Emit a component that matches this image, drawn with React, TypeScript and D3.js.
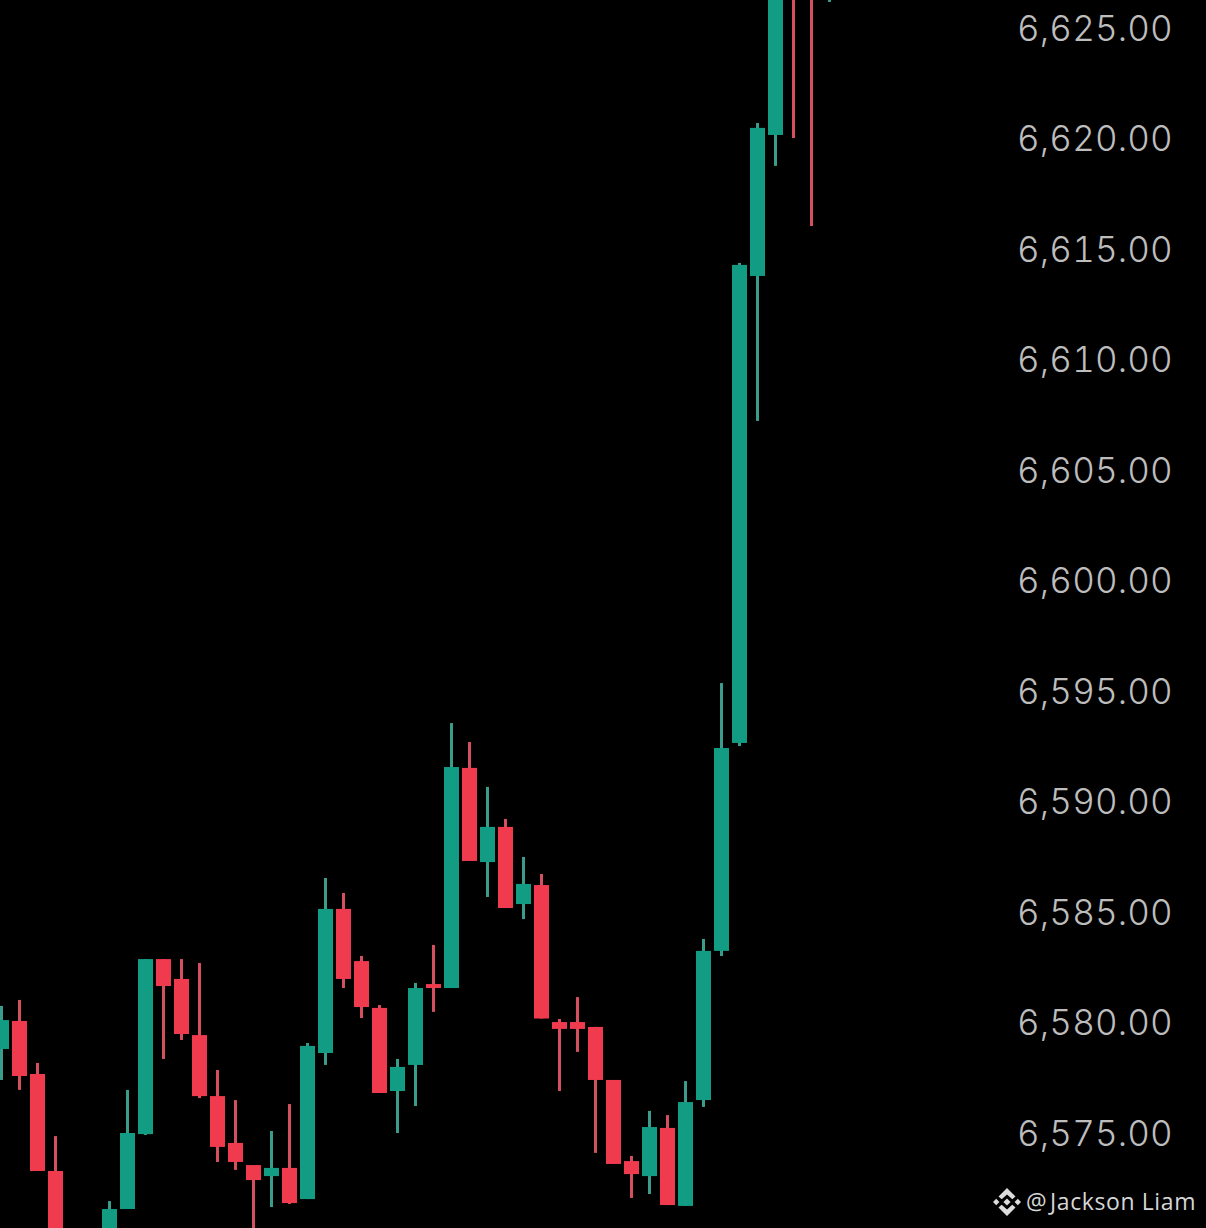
import React, { useEffect, useRef } from "react";
import * as d3 from "d3";

// candle slots, 4 and 5 sit below the visible part of the chart
const slots = [0, 1, 2, 3, 6, 7, 8, 9, 10, 11, 12, 13, 14, 15, 16, 17, 18, 19, 20, 21, 22, 23, 24, 25, 26, 27, 28, 29, 30, 31, 32, 33, 34, 35, 36, 37, 38, 39, 40, 41, 42, 43, 44, 45, 46];
const opens = [6578.8, 6580.07, 6577.67, 6573.28, 6570.16, 6571.56, 6574.95, 6582.87, 6581.97, 6579.43, 6576.67, 6574.55, 6573.55, 6573.05, 6573.42, 6572.01, 6578.62, 6585.14, 6582.78, 6580.66, 6576.9, 6578.08, 6581.74, 6581.56, 6591.52, 6587.26, 6588.85, 6585.36, 6586.22, 6580.02, 6580.02, 6579.8, 6577.4, 6573.73, 6573.05, 6575.23, 6571.7, 6576.49, 6583.24, 6592.65, 6613.78, 6620.16, 6630.5, 6631, 6627.5];
const highs = [6580.75, 6581.02, 6578.17, 6574.86, 6571.92, 6576.95, 6582.87, 6582.87, 6582.87, 6582.69, 6577.85, 6576.49, 6573.55, 6575.09, 6576.31, 6579.07, 6586.54, 6585.86, 6583.01, 6580.79, 6578.35, 6581.79, 6583.51, 6593.55, 6592.69, 6590.66, 6589.21, 6587.49, 6586.72, 6580.16, 6581.15, 6579.8, 6577.4, 6573.96, 6576, 6575.81, 6577.35, 6583.78, 6595.36, 6614.37, 6620.7, 6628.08, 6631, 6632, 6634];
const lows = [6577.4, 6576.95, 6573.28, 6569.71, 6570.16, 6571.56, 6574.91, 6578.35, 6579.21, 6576.58, 6573.69, 6573.33, 6570.16, 6571.65, 6571.79, 6572.01, 6578.08, 6581.56, 6580.2, 6576.81, 6575, 6576.22, 6580.48, 6581.56, 6587.31, 6585.68, 6585.18, 6584.68, 6580.18, 6576.9, 6578.67, 6574.1, 6573.6, 6572.06, 6572.24, 6571.74, 6571.7, 6576.18, 6583.01, 6592.51, 6607.22, 6618.76, 6620.02, 6616.04, 6626.18];
const closes = [6580.11, 6577.58, 6573.28, 6570.16, 6571.56, 6575, 6582.87, 6581.65, 6579.48, 6576.67, 6574.37, 6573.69, 6572.87, 6573.42, 6571.83, 6578.94, 6585.14, 6581.97, 6580.7, 6576.81, 6577.99, 6581.56, 6581.56, 6591.56, 6587.31, 6588.85, 6585.18, 6586.27, 6580.18, 6579.71, 6579.71, 6577.4, 6573.6, 6573.14, 6575.27, 6571.74, 6576.4, 6583.24, 6592.42, 6614.28, 6620.48, 6628.08, 6628.4, 6629, 6633];
const priceTicks = [6575, 6580, 6585, 6590, 6595, 6600, 6605, 6610, 6615, 6620, 6625];
const watermarkAt = "@";
const watermarkName = "Jackson Liam";

const UP = "#129c84";
const DOWN = "#f03a4e";
const UP_WICK = "#3a9c8a";
const DOWN_WICK = "#d4505f";

export default function App() {
  const ref = useRef<SVGSVGElement>(null);

  useEffect(() => {
    const width = 1206;
    const height = 1228;
    const bodyWidth = 15;
    const wickWidth = 3;

    const svg = d3.select(ref.current);
    svg.selectAll("*").remove();
    svg.attr("width", width).attr("height", height);

    svg.append("rect").attr("width", width).attr("height", height).attr("fill", "#000");

    const x = d3.scaleLinear().domain([0, 46]).range([1.5, 829.5]);
    const y = d3.scaleLinear().domain([6575, 6625]).range([1133, 28]);

    const candles = slots.map((slot, i) => ({
      slot,
      open: opens[i],
      high: highs[i],
      low: lows[i],
      close: closes[i],
    }));
    const isUp = (d: { open: number; close: number }) => d.close >= d.open;

    const g = svg.append("g");
    g.selectAll("rect.wick")
      .data(candles)
      .enter()
      .append("rect")
      .attr("class", "wick")
      .attr("x", (d) => x(d.slot) - wickWidth / 2)
      .attr("width", wickWidth)
      .attr("y", (d) => y(d.high))
      .attr("height", (d) => y(d.low) - y(d.high))
      .attr("fill", (d) => (isUp(d) ? UP_WICK : DOWN_WICK));

    g.selectAll("rect.body")
      .data(candles)
      .enter()
      .append("rect")
      .attr("class", "body")
      .attr("x", (d) => x(d.slot) - bodyWidth / 2)
      .attr("width", bodyWidth)
      .attr("y", (d) => y(Math.max(d.open, d.close)))
      .attr("height", (d) => Math.abs(y(d.open) - y(d.close)))
      .attr("fill", (d) => (isUp(d) ? UP : DOWN));

    const axis = svg
      .append("g")
      .attr("transform", "translate(1017,1)")
      .call(
        d3
          .axisRight(y)
          .tickValues(priceTicks)
          .tickSize(0)
          .tickPadding(0)
          .tickFormat((d) => d3.format(",.2f")(d as number))
      );
    axis.select(".domain").remove();
    axis
      .selectAll("text")
      .attr("fill", "#bdbdbd")
      .attr("font-family", "Inter")
      .attr("font-size", 35)
      .attr("font-weight", 300)
      .attr("letter-spacing", 0.15)
      .style("font-variant-numeric", "tabular-nums");

    // binance mark
    const logo = svg.append("g").attr("transform", "translate(1007,1202)").attr("fill", "#dcdcdc");
    logo.append("path").attr("d", "M0,-14 L8.5,-5.5 L5.3,-2.7 L0,-7.6 L-5.3,-2.7 L-8.5,-5.5 Z");
    logo.append("path").attr("d", "M0,14 L8.5,5.5 L5.3,2.7 L0,7.6 L-5.3,2.7 L-8.5,5.5 Z");
    logo.append("path").attr("d", "M0,-3.6 L3.6,0 L0,3.6 L-3.6,0 Z");
    logo.append("path").attr("d", "M-14,0 L-10.8,-3.2 L-7.6,0 L-10.8,3.2 Z");
    logo.append("path").attr("d", "M14,0 L10.8,-3.2 L7.6,0 L10.8,3.2 Z");

    const label = svg
      .append("text")
      .attr("y", 1210)
      .attr("fill", "#d6d6d6")
      .attr("font-family", "Open Sans")
      .attr("font-size", 23)
      .attr("letter-spacing", 0.6);
    label.append("tspan").attr("x", 1026).text(watermarkAt);
    label.append("tspan").attr("x", 1050).text(watermarkName);
  }, []);

  return (
    <div>
      <svg ref={ref} style={{ position: "absolute", left: 0, top: 0, display: "block" }}></svg>
    </div>
  );
}
